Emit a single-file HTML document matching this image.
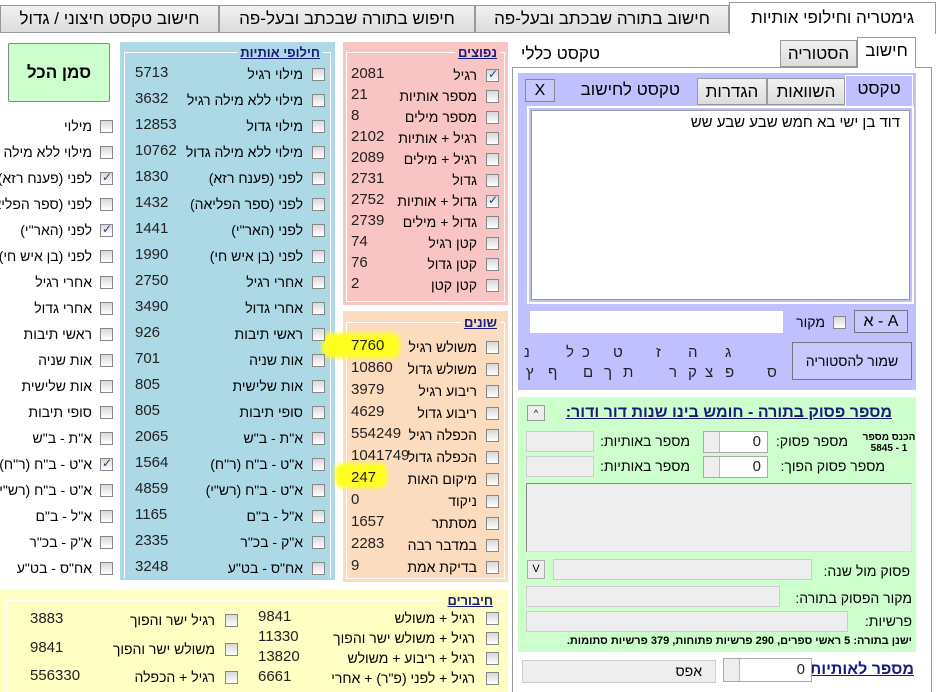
<!DOCTYPE html>
<html><head><meta charset="utf-8"><style>
body{margin:0;width:936px;height:692px;overflow:hidden;background:#fff;font-family:"Liberation Sans","DejaVu Sans",sans-serif;position:relative;color:#000}
div{box-sizing:border-box}
.a{position:absolute}
.t{position:absolute;white-space:nowrap;direction:rtl;font-size:14px;line-height:18px}
.n{position:absolute;white-space:nowrap;font-size:15px;line-height:18px;color:#222}
.cb{position:absolute;width:13px;height:13px;border:1px solid #888;background:linear-gradient(#d8d8d8,#fff)}
.cb.k::after{content:"✓";position:absolute;left:1px;top:-3px;font-size:12px;color:#23408e;font-weight:bold}
.tab{position:absolute;background:linear-gradient(#f2f2f2,#dcdcdc);border:1px solid #999;font-size:17px;line-height:26px;text-align:center;direction:rtl;white-space:nowrap}
.h{position:absolute;font-weight:bold;text-decoration:underline;color:#1a1a7a;font-size:13px;direction:rtl;white-space:nowrap}
.box{position:absolute;background:#eee;border:1px solid #ccc}
.inp{position:absolute;background:#fff;border:1px solid #aaa}
.spin{position:absolute;width:16px;border-right:1px solid #bbb;background:#eee}
</style></head><body>
<div class="a" style="left:0;top:32px;width:936px;height:1px;background:#999"></div>
<div class="tab" style="left:0;top:5px;width:219px;height:28px">חישוב טקסט חיצוני / גדול</div>
<div class="tab" style="left:219px;top:5px;width:256px;height:28px">חיפוש בתורה שבכתב ובעל-פה</div>
<div class="tab" style="left:475px;top:5px;width:254px;height:28px">חישוב בתורה שבכתב ובעל-פה</div>
<div class="tab" style="left:729px;top:2px;width:207px;height:32px;background:#fff;border-bottom:none;line-height:30px">גימטריה וחילופי אותיות</div>

<div class="a" style="left:8px;top:43px;width:102px;height:59px;background:#ccffcc;border:1px solid #888;border-radius:2px;font-weight:bold;font-size:17px;line-height:57px;text-align:center;direction:rtl">סמן הכל</div>

<div class="cb" style="left:100px;top:120px"></div><div class="t" style="right:844px;top:117px">מילוי</div>
<div class="cb" style="left:100px;top:146px"></div><div class="t" style="right:844px;top:143px">מילוי ללא מילה</div>
<div class="cb k" style="left:100px;top:172px"></div><div class="t" style="right:844px;top:169px">לפני (פענח רזא)</div>
<div class="cb" style="left:100px;top:198px"></div><div class="t" style="right:844px;top:195px">לפני (ספר הפליאה)</div>
<div class="cb k" style="left:100px;top:224px"></div><div class="t" style="right:844px;top:221px">לפני (האר"י)</div>
<div class="cb" style="left:100px;top:250px"></div><div class="t" style="right:844px;top:247px">לפני (בן איש חי)</div>
<div class="cb" style="left:100px;top:276px"></div><div class="t" style="right:844px;top:273px">אחרי רגיל</div>
<div class="cb" style="left:100px;top:302px"></div><div class="t" style="right:844px;top:299px">אחרי גדול</div>
<div class="cb" style="left:100px;top:328px"></div><div class="t" style="right:844px;top:325px">ראשי תיבות</div>
<div class="cb" style="left:100px;top:354px"></div><div class="t" style="right:844px;top:351px">אות שניה</div>
<div class="cb" style="left:100px;top:380px"></div><div class="t" style="right:844px;top:377px">אות שלישית</div>
<div class="cb" style="left:100px;top:406px"></div><div class="t" style="right:844px;top:403px">סופי תיבות</div>
<div class="cb" style="left:100px;top:432px"></div><div class="t" style="right:844px;top:429px">א"ת - ב"ש</div>
<div class="cb k" style="left:100px;top:458px"></div><div class="t" style="right:844px;top:455px">א"ט - ב"ח (ר"ח)</div>
<div class="cb" style="left:100px;top:484px"></div><div class="t" style="right:844px;top:481px">א"ט - ב"ח (רש"י)</div>
<div class="cb" style="left:100px;top:510px"></div><div class="t" style="right:844px;top:507px">א"ל - ב"ם</div>
<div class="cb" style="left:100px;top:536px"></div><div class="t" style="right:844px;top:533px">א"ק - בכ"ר</div>
<div class="cb" style="left:100px;top:562px"></div><div class="t" style="right:844px;top:559px">אח"ס - בט"ע</div>

<div class="a" style="left:120px;top:42px;width:215px;height:538px;background:#add8e6"></div>
<div class="a" style="left:124px;top:52px;width:207px;height:526px;border:1px solid #fff;border-bottom:none"></div>
<div class="h" style="right:613px;top:45px;background:#add8e6;padding:0 3px">חילופי אותיות</div>

<div class="a" style="left:343px;top:42px;width:165px;height:263px;background:#f8c4c4"></div>
<div class="a" style="left:346px;top:52px;width:159px;height:250px;border:1px solid #fff"></div>
<div class="h" style="right:436px;top:45px;background:#f8c4c4;padding:0 3px">נפוצים</div>

<div class="a" style="left:343px;top:311px;width:165px;height:271px;background:#fcdcbe"></div>
<div class="a" style="left:346px;top:322px;width:159px;height:257px;border:1px solid #fff"></div>
<div class="h" style="right:436px;top:315px;background:#fcdcbe;padding:0 3px">שונים</div>
<div class="a" style="left:322px;top:333px;width:78px;height:25px;background:#ffff20;border-radius:8px;filter:blur(2px)"></div>
<div class="a" style="left:335px;top:463px;width:52px;height:25px;background:#ffff20;border-radius:8px;filter:blur(2px)"></div>

<div class="a" style="left:0;top:590px;width:508px;height:102px;background:#ffffc4"></div>
<div class="a" style="left:6px;top:600px;width:498px;height:92px;border:1px solid #fff;border-bottom:none"></div>
<div class="h" style="right:440px;top:593px;background:#ffffc4;padding:0 3px">חיבורים</div>

<div id="lists"></div>

<div class="a" style="left:512px;top:67px;width:420px;height:625px;border:1px solid #999;border-bottom:none"></div>
<div class="tab" style="left:780px;top:40px;width:77px;height:27px">הסטוריה</div>
<div class="tab" style="left:857px;top:37px;width:59px;height:31px;background:#fff;border-bottom:none">חישוב</div>
<div class="t" style="right:336px;top:45px;font-size:17px">טקסט כללי</div>

<div class="a" style="left:518px;top:73px;width:398px;height:317px;background:#c0c0ff"></div>
<div class="tab" style="left:697px;top:78px;width:70px;height:27px">הגדרות</div>
<div class="tab" style="left:767px;top:78px;width:78px;height:27px">השוואות</div>
<div class="tab" style="left:845px;top:75px;width:68px;height:31px;background:#c0c0ff;border-color:#fff;border-bottom:none">טקסט</div>
<div class="t" style="right:256px;top:81px;font-size:17px">טקסט לחישוב</div>
<div class="a" style="left:525px;top:79px;width:30px;height:23px;border:1px solid #888;background:#c8c8ff;text-align:center;font-size:16px;line-height:21px">X</div>
<div class="a" style="left:527px;top:106px;width:387px;height:198px;border:2px solid #fff;background:#c0c0ff"></div>
<div class="a" style="left:531px;top:110px;width:379px;height:190px;background:#fff;border:1px solid #999"></div>
<div class="t" style="right:36px;top:114px;font-size:15px">דוד בן ישי בא חמש שבע שבע שש</div>
<div class="inp" style="left:530px;top:311px;width:253px;height:22px;border-color:#fff"></div>
<div class="cb" style="left:833px;top:316px"></div>
<div class="t" style="right:111px;top:313px;font-size:14px">מקור</div>
<div class="a" style="left:854px;top:310px;width:54px;height:23px;border:1px solid #777;background:#c8c8ff;font-size:16px;line-height:21px;text-align:center">א - A</div>
<div class="a" style="left:792px;top:342px;width:120px;height:38px;border:1px solid #777;background:#c8c8ff;font-size:14px;line-height:36px;text-align:center;direction:rtl">שמור להסטוריה</div>
<div class="a" style="left:0;top:0;font-size:15px">
<span class="n" style="left:725px;top:344px">ג</span><span class="n" style="left:688px;top:344px">ה</span><span class="n" style="left:656px;top:344px">ז</span><span class="n" style="left:613px;top:344px">ט</span><span class="n" style="left:582px;top:344px">כ</span><span class="n" style="left:566px;top:344px">ל</span><span class="n" style="left:524px;top:344px">נ</span>
<span class="n" style="left:767px;top:364px">ס</span><span class="n" style="left:725px;top:364px">פ</span><span class="n" style="left:705px;top:364px">צ</span><span class="n" style="left:688px;top:364px">ק</span><span class="n" style="left:669px;top:364px">ר</span><span class="n" style="left:623px;top:364px">ת</span><span class="n" style="left:604px;top:364px">ך</span><span class="n" style="left:583px;top:364px">ם</span><span class="n" style="left:548px;top:364px">ף</span><span class="n" style="left:526px;top:364px">ץ</span>
</div>

<div class="a" style="left:518px;top:397px;width:398px;height:255px;background:#ccffcc"></div>
<div class="h" style="right:44px;top:404px;font-size:16px">מספר פסוק בתורה - חומש בינו שנות דור ודור:</div>
<div class="a" style="left:527px;top:405px;width:18px;height:16px;border:1px solid #999;background:#eee;font-size:9px;text-align:center;line-height:14px">^</div>
<div class="a" style="left:862px;top:432px;font-size:10px;font-weight:bold;direction:rtl;text-align:center;line-height:11px;width:54px">הכנס מספר<br>1 - 5845</div>
<div class="t" style="right:88px;top:432px">מספר פסוק:</div>
<div class="inp" style="left:703px;top:431px;width:65px;height:22px"><div class="spin" style="left:0;top:0;height:20px"></div><span class="n" style="right:6px;top:1px">0</span></div>
<div class="t" style="right:246px;top:432px">מספר באותיות:</div>
<div class="box" style="left:526px;top:431px;width:68px;height:21px"></div>
<div class="t" style="right:51px;top:457px">מספר פסוק הפוך:</div>
<div class="inp" style="left:703px;top:456px;width:65px;height:22px"><div class="spin" style="left:0;top:0;height:20px"></div><span class="n" style="right:6px;top:1px">0</span></div>
<div class="t" style="right:246px;top:457px">מספר באותיות:</div>
<div class="box" style="left:526px;top:456px;width:68px;height:21px"></div>
<div class="box" style="left:526px;top:483px;width:386px;height:69px;border:1px solid #888;border-right-color:#ddd;border-bottom-color:#ddd"></div>
<div class="t" style="right:26px;top:562px">פסוק מול שנה:</div>
<div class="box" style="left:553px;top:559px;width:259px;height:21px"></div>
<div class="a" style="left:527px;top:560px;width:18px;height:19px;border:1px solid #aaa;background:#eee;font-size:11px;text-align:center;line-height:17px">V</div>
<div class="t" style="right:24px;top:589px">מקור הפסוק בתורה:</div>
<div class="box" style="left:526px;top:586px;width:254px;height:21px"></div>
<div class="t" style="right:24px;top:612px">פרשיות:</div>
<div class="box" style="left:526px;top:611px;width:322px;height:21px"></div>
<div class="t" style="right:24px;top:634px;font-size:11px;font-weight:bold;line-height:14px">ישנן בתורה: 5 ראשי ספרים, 290 פרשיות פתוחות, 379 פרשיות סתומות.</div>
<div class="h" style="right:22px;top:661px;font-size:16px">מספר לאותיות</div>
<div class="inp" style="left:723px;top:658px;width:89px;height:24px"><div class="spin" style="left:0;top:0;height:22px"></div><span class="n" style="right:6px;top:2px">0</span></div>
<div class="box" style="left:522px;top:660px;width:194px;height:23px"></div>
<div class="t" style="right:234px;top:662px;font-size:14px">אפס</div>

<script>
function row(cbL,lblR,numL,cy,lbl,num,chk){
 return '<div class="cb'+(chk?' k':'')+'" style="left:'+cbL+'px;top:'+(cy-6)+'px"></div><div class="t" style="right:'+lblR+'px;top:'+(cy-9)+'px">'+lbl+'</div><div class="n" style="left:'+numL+'px;top:'+(cy-10)+'px">'+num+'</div>';
}
var h='';
var b=[["מילוי רגיל",5713],["מילוי ללא מילה רגיל",3632],["מילוי גדול",12853],["מילוי ללא מילה גדול",10762],["לפני (פענח רזא)",1830],["לפני (ספר הפליאה)",1432],["לפני (האר\"י)",1441],["לפני (בן איש חי)",1990],["אחרי רגיל",2750],["אחרי גדול",3490],["ראשי תיבות",926],["אות שניה",701],["אות שלישית",805],["סופי תיבות",805],["א\"ת - ב\"ש",2065],["א\"ט - ב\"ח (ר\"ח)",1564],["א\"ט - ב\"ח (רש\"י)",4859],["א\"ל - ב\"ם",1165],["א\"ק - בכ\"ר",2335],["אח\"ס - בט\"ע",3248]];
b.forEach(function(r,i){h+=row(312,633,135,74+i*26,r[0],r[1]);});
var p=[["רגיל",2081,1],["מספר אותיות",21],["מספר מילים",8],["רגיל + אותיות",2102],["רגיל + מילים",2089],["גדול",2731],["גדול + אותיות",2752,1],["גדול + מילים",2739],["קטן רגיל",74],["קטן גדול",76],["קטן קטן",2]];
p.forEach(function(r,i){h+=row(486,459,351,75+i*21,r[0],r[1],r[2]);});
var s=[["משולש רגיל",7760],["משולש גדול",10860],["ריבוע רגיל",3979],["ריבוע גדול",4629],["הכפלה רגיל",554249],["הכפלה גדול",1041749],["מיקום האות",247],["ניקוד",0],["מסתתר",1657],["במדבר רבה",2283],["בדיקת אמת",9]];
s.forEach(function(r,i){h+=row(486,459,351,347+i*22,r[0],r[1]);});
var y=[["רגיל + משולש",9841],["רגיל + משולש ישר והפוך",11330],["רגיל + ריבוע + משולש",13820],["רגיל + לפני (פ\"ר) + אחרי",6661]];
y.forEach(function(r,i){h+=row(486,461,258,618+i*20,r[0],r[1]);});
var z=[["רגיל ישר והפוך",3883],["משולש ישר והפוך",9841],["רגיל + הכפלה",556330]];
z.forEach(function(r,i){h+=row(225,721,30,620+i*28.5,r[0],r[1]);});
document.getElementById('lists').innerHTML=h;
</script>
</body></html>
